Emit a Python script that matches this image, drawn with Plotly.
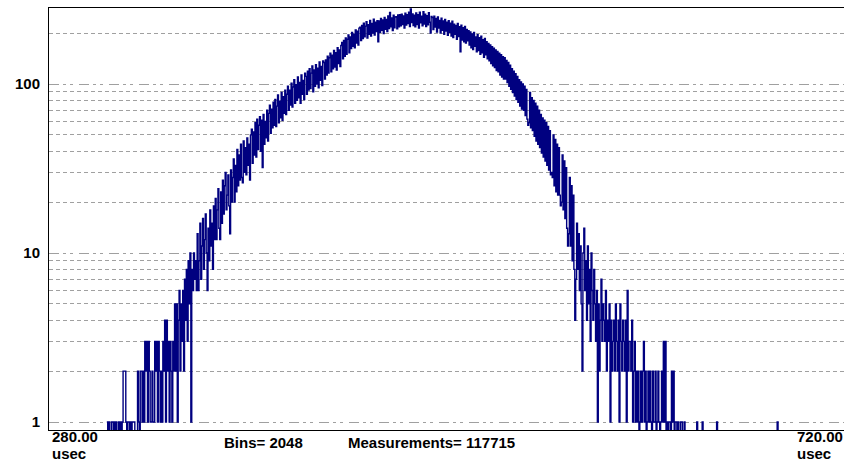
import plotly.graph_objects as go

# ---- data (counts per bin) ----
bin_start_usec = 312.0
bin_width_usec = 0.5
counts = [
    1, 0, 1, 0, 0, 1, 1, 0, 1, 0, 1, 0, 0, 1, 0, 1, 0, 1, 2, 2,
    2, 1, 0, 1, 1, 0, 1, 0, 1, 1, 1, 0, 0, 0, 2, 1, 0, 2, 2, 1,
    2, 1, 3, 2, 3, 1, 3, 2, 1, 1, 2, 1, 1, 3, 2, 3, 1, 3, 2, 1,
    2, 1, 3, 2, 4, 1, 4, 2, 3, 1, 3, 2, 1, 3, 2, 5, 2, 5, 1, 4,
    6, 2, 5, 3, 6, 2, 7, 4, 8, 3, 9, 5, 10, 1, 8, 6, 10, 7, 9, 6,
    13, 6, 9, 15, 7, 11, 16, 8, 12, 17, 10, 6, 14, 9, 18, 11, 15, 8, 19, 12,
    21, 12, 18, 24, 14, 12, 23, 15, 27, 17, 25, 30, 18, 22, 29, 19, 13, 31, 20, 28,
    36, 20, 33, 23, 41, 25, 38, 27, 44, 28, 26, 46, 30, 42, 29, 48, 33, 44, 27, 50,
    54, 34, 52, 38, 59, 37, 62, 41, 57, 64, 40, 61, 32, 66, 44, 60, 48, 70, 46, 67,
    75, 51, 71, 55, 78, 57, 81, 56, 74, 86, 59, 79, 63, 89, 61, 84, 67, 92, 66, 87,
    97, 70, 92, 75, 101, 73, 96, 106, 77, 99, 80, 110, 83, 102, 77, 113, 87, 105, 81, 116,
    111, 87, 119, 92, 123, 94, 116, 128, 90, 121, 97, 130, 100, 124, 95, 135, 105, 127, 98, 137,
    134, 107, 139, 113, 146, 116, 143, 152, 118, 148, 123, 158, 126, 153, 121, 164, 132, 159, 127, 169,
    176, 141, 181, 146, 187, 150, 184, 195, 153, 190, 162, 202, 167, 197, 164, 209, 175, 205, 170, 214,
    217, 181, 222, 186, 229, 190, 220, 234, 187, 224, 197, 238, 192, 228, 200, 242, 195, 232, 204, 237,
    178, 236, 202, 244, 208, 239, 199, 248, 211, 241, 204, 253, 213, 265, 218, 246, 207, 255, 215, 249,
    250, 212, 256, 218, 257, 221, 259, 225, 253, 214, 262, 223, 257, 228, 266, 219, 278, 231, 260, 222,
    255, 218, 263, 225, 257, 214, 266, 230, 252, 221, 268, 226, 259, 219, 254, 224, 264, 232, 200, 251,
    247, 210, 252, 217, 244, 203, 249, 214, 238, 200, 245, 208, 236, 197, 241, 206, 232, 194, 237, 202,
    229, 192, 235, 188, 226, 197, 222, 184, 228, 191, 218, 155, 223, 182, 215, 178, 219, 175, 210, 180,
    207, 170, 203, 164, 198, 160, 202, 167, 190, 155, 196, 158, 188, 150, 192, 153, 183, 144, 186, 149,
    178, 141, 174, 137, 170, 132, 166, 128, 163, 125, 159, 120, 156, 118, 152, 113, 149, 110, 145, 107,
    143, 107, 138, 102, 134, 97, 129, 93, 123, 89, 119, 85, 115, 81, 111, 78, 106, 74, 103, 71,
    100, 70, 97, 65, 93, 62, 57, 59, 89, 55, 83, 53, 80, 49, 77, 46, 74, 44, 70, 42,
    66, 39, 63, 37, 61, 35, 59, 33, 56, 31, 53, 29, 30, 28, 50, 25, 47, 23, 44, 22,
    42, 22, 19, 20, 38, 18, 35, 16, 32, 14, 11, 13, 28, 11, 25, 9, 22, 8, 4, 7,
    15, 8, 13, 6, 11, 5, 2, 10, 14, 6, 9, 4, 11, 5, 8, 3, 10, 6, 4, 8,
    5, 3, 6, 1, 5, 2, 4, 7, 3, 5, 4, 3, 6, 2, 4, 3, 5, 1, 4, 2,
    3, 4, 2, 5, 3, 2, 4, 1, 5, 3, 2, 4, 3, 2, 4, 1, 6, 2, 3, 3,
    2, 4, 1, 2, 3, 1, 2, 1, 2, 0, 1, 2, 1, 2, 3, 1, 2, 0, 1, 2,
    1, 2, 1, 0, 2, 1, 1, 2, 0, 1, 2, 1, 0, 1, 2, 1, 3, 1, 3, 0,
    1, 0, 1, 1, 0, 2, 1, 2, 0, 1, 1, 0, 1, 0, 0, 1, 1, 0, 0, 1,
    0, 0, 0, 0, 0, 0, 0, 0, 0, 0, 0, 0, 0, 1, 0, 0, 0, 0, 0, 1,
    0, 0, 0, 0, 0, 0, 0, 0, 0, 0, 0, 0, 0, 0, 0, 1, 0, 0, 0, 0,
    0, 0, 0, 0, 0, 0, 0, 0, 0, 0, 0, 0, 0, 0, 0, 0, 0, 0, 0, 0,
    0, 0, 0, 0, 0, 0, 0, 0, 0, 0, 0, 0, 0, 0, 0, 0, 0, 0, 0, 0,
    0, 0, 0, 0, 0, 0, 0, 0, 0, 0, 0, 0, 0, 0, 0, 0, 0, 0, 0, 0,
    0, 0, 1, 0,
]
x_range_usec = [280.0, 720.0]
y_major_vals = [1, 10, 100]
y_major_text = ["1", "10", "100"]
y_minor_vals = [2, 3, 4, 5, 6, 7, 8, 9, 20, 30, 40, 50, 60, 70, 80, 90, 200]
left_label = "280.00"
right_label = "720.00"
unit_label = "usec"
bins_label = "Bins= 2048"
meas_label = "Measurements= 117715"

# ---- figure ----
x = [bin_start_usec + i * bin_width_usec for i in range(len(counts))]
y = [c if c > 0 else 0.5 for c in counts]  # empty bins drop below the axis floor

NAVY = "#000080"
GRID = "#a0a0a0"
FONT = "Liberation Sans"

fig = go.Figure()
fig.add_trace(go.Scatter(
    x=x, y=y, mode="lines",
    line=dict(shape="hv", color=NAVY, width=1.4),
    hoverinfo="skip",
))

fig.update_layout(
    width=844, height=461,
    margin=dict(l=49, r=0, t=8, b=31),
    paper_bgcolor="white", plot_bgcolor="white",
    showlegend=False,
    xaxis=dict(
        range=x_range_usec, showgrid=False, zeroline=False,
        showticklabels=False, ticks="",
        showline=True, linecolor="black", linewidth=1, mirror=True,
    ),
    yaxis=dict(
        type="log", range=[-0.0473, 2.4497],
        tickmode="array", tickvals=y_major_vals, ticktext=y_major_text,
        ticks="", ticklabelstandoff=5,
        tickfont=dict(family=FONT, size=15, color="black", weight="bold"),
        showline=True, linecolor="black", linewidth=1,
        showgrid=True, gridcolor=GRID, gridwidth=1,
        griddash="10px,4px,3px,4px,3px,6px",
        zeroline=False,
        minor=dict(
            tickmode="array", tickvals=y_minor_vals, ticks="",
            showgrid=True, gridcolor=GRID, gridwidth=1, griddash="4px,3px",
        ),
    ),
)

lab_font = dict(family=FONT, size=15, color="black", weight="bold")
x_right = (796 - 49) / 795.0
annos = [
    (left_label, 0.0, -6, 2),
    (unit_label, 0.0, -23, 2),
    (right_label, x_right, -6, 0),
    (unit_label, x_right, -23, 0),
    (bins_label, (223 - 49) / 795.0, -12, 0),
    (meas_label, (347 - 49) / 795.0, -12, 0),
]
for txt, xp, ys, xs in annos:
    fig.add_annotation(
        text=txt, xref="paper", yref="paper", x=xp, y=0,
        xanchor="left", yanchor="middle", xshift=xs, yshift=ys,
        showarrow=False, font=lab_font, borderpad=0,
    )

fig.write_html("out.html")
